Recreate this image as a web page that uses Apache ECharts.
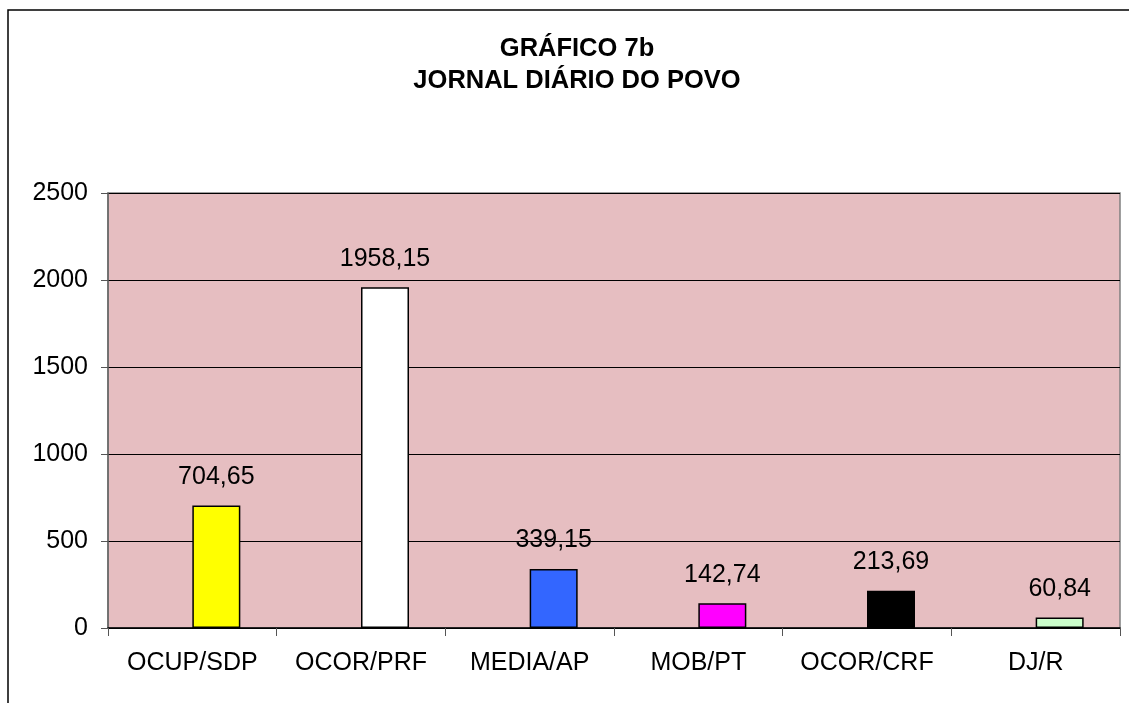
<!DOCTYPE html>
<html>
<head>
<meta charset="utf-8">
<script src="https://cdn.jsdelivr.net/npm/echarts@6/dist/echarts.min.js"></script>
<style>
  html, body { margin: 0; padding: 0; background: #fff; }
  #chart { width: 1129px; height: 703px; }
</style>
</head>
<body>
<div id="chart"></div>
<script>
// categorias do eixo x
const categories = ['OCUP/SDP', 'OCOR/PRF', 'MEDIA/AP', 'MOB/PT', 'OCOR/CRF', 'DJ/R']
// valores
const values = [704.65, 1958.15, 339.15, 142.74, 213.69, 60.84]
// cores de cada barra
const barColors = ['#ffff00', '#ffffff', '#3366ff', '#ff00ff', '#000000', '#ccffcc']
// marcas do eixo y
const yTicks = [0, 500, 1000, 1500, 2000, 2500]

const font = 'Arial, "Liberation Sans", sans-serif'
const chart = echarts.init(document.getElementById('chart'))

const options = {
  animation: false,
  textStyle: { fontFamily: font },
  title: {
    text: 'GRÁFICO 7b\nJORNAL DIÁRIO DO POVO',
    left: 572,
    top: 28,
    textAlign: 'center',
    textStyle: {
      fontFamily: font,
      fontSize: 25.5,
      fontWeight: 'bold',
      color: '#000',
      lineHeight: 32
    }
  },
  graphic: [
    {
      type: 'rect',
      shape: { x: 8, y: 10, width: 1200, height: 800 },
      style: { fill: 'none', stroke: '#000', lineWidth: 1.5 },
      z: -1
    }
  ],
  grid: {
    left: 108,
    right: 9,
    top: 193,
    bottom: 75,
    show: true,
    backgroundColor: '#e6bec1',
    borderColor: '#808080',
    borderWidth: 1.5
  },
  xAxis: {
    type: 'category',
    data: categories,
    axisLine: { lineStyle: { color: '#000', width: 1.5 } },
    axisTick: { show: true, interval: 0, length: 8, lineStyle: { color: '#555' } },
    axisLabel: { interval: 0, color: '#000', fontSize: 25, margin: 23, fontFamily: font }
  },
  yAxis: {
    type: 'value',
    min: yTicks[0],
    max: yTicks[yTicks.length - 1],
    interval: 500,
    axisLine: { show: true, lineStyle: { color: '#666', width: 1.5 } },
    axisTick: { show: true, length: 7, lineStyle: { color: '#555' } },
    axisLabel: { color: '#000', fontSize: 25, margin: 20, fontFamily: font, formatter: v => String(v) },
    splitLine: { show: true, lineStyle: { color: '#000', width: 1 } }
  },
  series: [
    {
      // série vazia (Excel reserva o lugar)
      type: 'bar',
      data: categories.map(() => null),
      barWidth: 48,
      barGap: '0%'
    },
    {
      type: 'bar',
      barWidth: 48,
      barGap: '0%',
      data: values.map((v, i) => ({
        value: v,
        itemStyle: { color: barColors[i], borderColor: '#000', borderWidth: 1.5 }
      })),
      label: {
        show: true,
        position: 'top',
        distance: 16,
        color: '#000',
        fontSize: 25,
        fontFamily: font,
        formatter: p => p.value.toFixed(2).replace('.', ',')
      }
    }
  ]
}

chart.setOption(options)
</script>
</body>
</html>
